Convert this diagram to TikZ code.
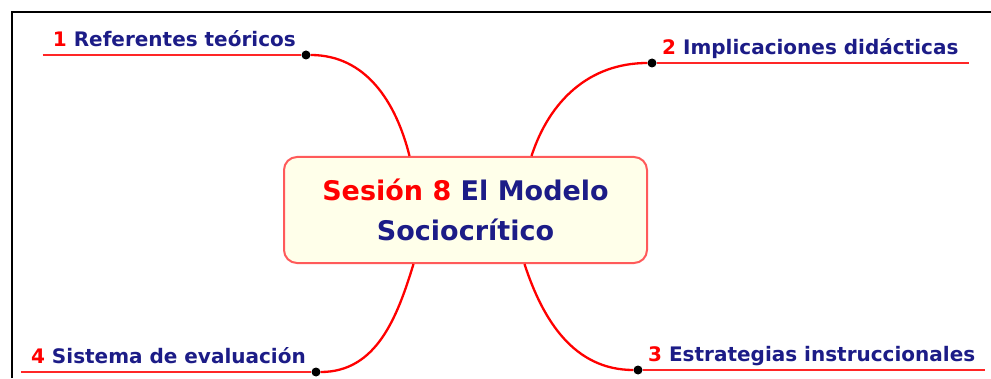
\documentclass[tikz,border=0pt]{standalone}
\usepackage{fontspec}
\setmainfont{DejaVu Sans}
\usepackage{xcolor}
\usepackage{tikz}
\usetikzlibrary{positioning}
\definecolor{mapred}{RGB}{255,0,0}
\definecolor{mapnavy}{RGB}{28,28,135}
\definecolor{boxfill}{RGB}{255,255,234}
\definecolor{boxline}{RGB}{255,90,90}
\newcommand{\numrojo}[1]{\textcolor{mapred}{#1}}

\begin{document}
\begin{tikzpicture}[x=1pt, y=1pt,
    centro/.style={rectangle, rounded corners=13pt, draw=boxline, line width=2pt, fill=boxfill, minimum width=363pt, minimum height=106pt, align=center, text=mapnavy, font=\bfseries\fontsize{27}{40}\selectfont},
    rama/.style={text=mapnavy, font=\bfseries\fontsize{20}{24}\selectfont, inner xsep=10pt, inner ysep=8pt, text depth=0pt},
    punto/.style={circle, fill=black, inner sep=0pt, minimum size=9pt},
    enlace/.style={draw=mapred, line width=2.3pt},
    subraya/.style={draw=mapred!85, line width=2pt}
]
    \useasboundingbox (0,0) rectangle (991,378);
    \draw[line width=2.4pt] (12,0) -- (12,366) -- (991,366);

    \node[centro] (centro) at (465.5,168) {\numrojo{Sesión 8} El Modelo\\Sociocrítico};

    \node[punto] (d1) at (306,323) {};
    \node[punto] (d2) at (652,315) {};
    \node[punto] (d3) at (638,8) {};
    \node[punto] (d4) at (316,6) {};

    \node[rama, anchor=south east] (r1) at (d1.center) {\numrojo{1} Referentes teóricos};
    \node[rama, anchor=south west] (r2) at (d2.center) {\numrojo{2} Implicaciones didácticas};
    \node[rama, anchor=south west] (r3) at (d3.center) {\numrojo{3} Estrategias instruccionales};
    \node[rama, anchor=south east] (r4) at (d4.center) {\numrojo{4} Sistema de evaluación};

    \draw[subraya] (r1.south west) -- (d1);
    \draw[subraya] (d2) -- (r2.south east);
    \draw[subraya] (d3) -- (r3.south east);
    \draw[subraya] (r4.south west) -- (d4);

    \draw[enlace] ([xshift=-56pt]centro.north) to[out=104, in=0] (d1);
    \draw[enlace] ([xshift=66pt]centro.north) to[out=72, in=180] (d2);
    \draw[enlace] ([xshift=59pt]centro.south) to[out=-72, in=180] (d3);
    \draw[enlace] ([xshift=-52pt]centro.south) to[out=-107, in=0] (d4);
\end{tikzpicture}
\end{document}
